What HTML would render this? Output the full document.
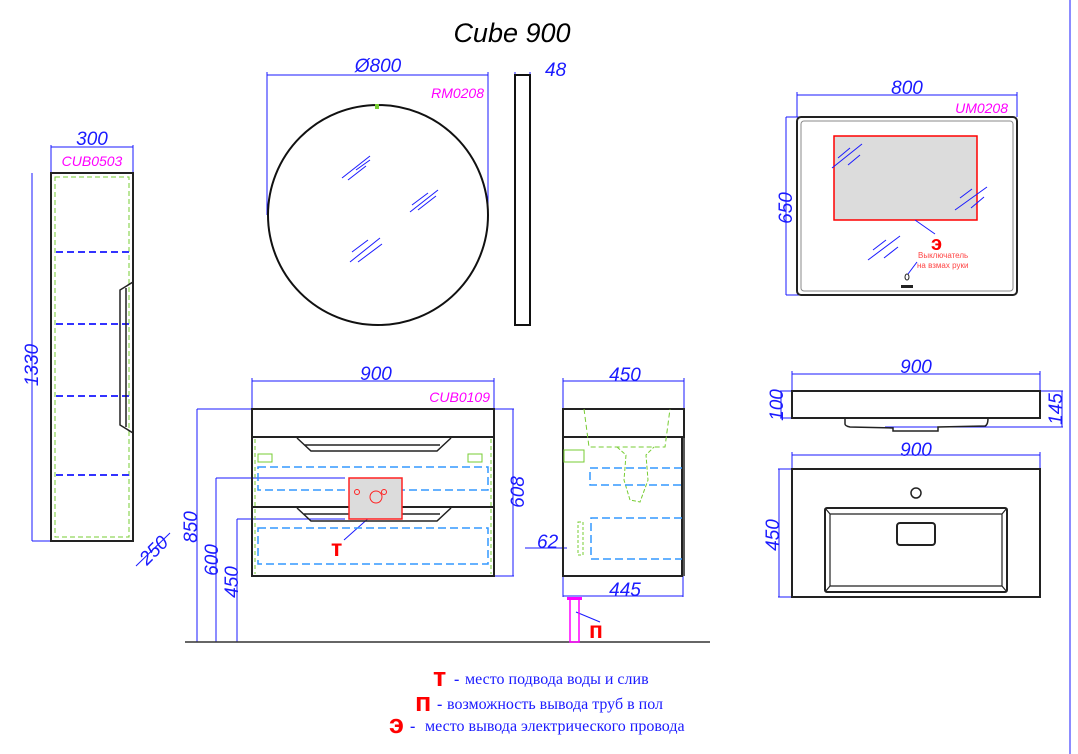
<!DOCTYPE html>
<html><head><meta charset="utf-8"><style>
body{margin:0;background:#fff;}
svg{display:block;font-family:"Liberation Sans",sans-serif;}
.d{font-style:italic;fill:#1a1aff;font-size:19px;}
.m{font-style:italic;fill:#ff00ff;font-size:14px;}
</style></head><body>
<svg width="1078" height="754" viewBox="0 0 1078 754">
<line x1="1070" y1="0" x2="1070" y2="754" stroke="#1a1aff" stroke-width="1"/>
<text x="512" y="42" font-size="27" font-style="italic" text-anchor="middle">Cube 900</text>

<!-- Left tall cabinet -->
<g stroke="#1a1aff" stroke-width="1" fill="none">
<line x1="51" y1="145" x2="51" y2="173"/><line x1="133" y1="145" x2="133" y2="173"/>
<line x1="51" y1="147" x2="133" y2="147"/>
<line x1="32" y1="173" x2="32" y2="541"/><line x1="32" y1="541" x2="51" y2="541"/>
<line x1="136" y1="566" x2="170" y2="533"/>
</g>
<text class="d" x="92" y="145" text-anchor="middle">300</text>
<text class="m" x="92" y="166" text-anchor="middle">CUB0503</text>
<text class="d" transform="translate(38,365) rotate(-90)" text-anchor="middle">1330</text>
<text class="d" transform="translate(147,566) rotate(-45)">250</text>
<rect x="51" y="173" width="82" height="368" fill="none" stroke="#222" stroke-width="2"/>
<rect x="55" y="177" width="74" height="360" fill="none" stroke="#7c3" stroke-dasharray="5,3"/>
<g stroke="#33f" stroke-width="2" stroke-dasharray="7,4">
<line x1="56" y1="252" x2="129" y2="252"/><line x1="56" y1="324" x2="129" y2="324"/>
<line x1="56" y1="396" x2="129" y2="396"/><line x1="56" y1="475" x2="129" y2="475"/>
</g>
<path d="M133 282 L120 290 L120 425 L133 433 M126 288 L126 427" fill="none" stroke="#222" stroke-width="1.5"/>

<!-- Round mirror -->
<g stroke="#1a1aff" fill="none">
<line x1="267" y1="75" x2="488" y2="75"/><line x1="267" y1="72" x2="267" y2="215"/><line x1="488" y1="72" x2="488" y2="215"/>
<line x1="515" y1="75" x2="530" y2="75"/><line x1="515" y1="72" x2="515" y2="80"/><line x1="530" y1="72" x2="530" y2="80"/>
</g>
<text class="d" x="378" y="72" text-anchor="middle">Ø800</text>
<text class="d" x="545" y="76">48</text>
<text class="m" x="484" y="98" text-anchor="end">RM0208</text>
<circle cx="378" cy="215" r="110" fill="none" stroke="#111" stroke-width="2"/>
<rect x="375" y="104" width="4" height="5" fill="#7c3"/>
<g stroke="#1a1aff" stroke-width="1">
<line x1="342" y1="178" x2="370" y2="156"/><line x1="348" y1="180" x2="366" y2="166"/><line x1="356" y1="170" x2="370" y2="160"/>
<line x1="410" y1="212" x2="438" y2="190"/><line x1="418" y1="210" x2="436" y2="196"/><line x1="412" y1="205" x2="428" y2="193"/>
<line x1="350" y1="262" x2="380" y2="238"/><line x1="358" y1="262" x2="382" y2="244"/><line x1="352" y1="252" x2="368" y2="240"/>
</g>
<rect x="515" y="75" width="15" height="250" fill="none" stroke="#111" stroke-width="2"/>

<!-- Rect mirror -->
<g stroke="#1a1aff" fill="none">
<line x1="797" y1="95" x2="1017" y2="95"/><line x1="797" y1="92" x2="797" y2="117"/><line x1="1017" y1="92" x2="1017" y2="117"/>
<line x1="786" y1="117" x2="786" y2="295"/><line x1="786" y1="117" x2="810" y2="117"/><line x1="786" y1="295" x2="810" y2="295"/>
</g>
<text class="d" x="907" y="94" text-anchor="middle">800</text>
<text class="m" x="1008" y="113" text-anchor="end">UM0208</text>
<text class="d" transform="translate(792,208) rotate(-90)" text-anchor="middle">650</text>
<rect x="797" y="117" width="220" height="178" rx="4" fill="none" stroke="#222" stroke-width="2"/>
<rect x="801" y="121" width="212" height="170" rx="3" fill="none" stroke="#888" stroke-width="1"/>
<rect x="834" y="136" width="143" height="84" fill="#dcdcdc" stroke="#f00" stroke-width="1.5"/>
<g stroke="#1a1aff">
<line x1="832" y1="168" x2="862" y2="144"/><line x1="838" y1="158" x2="850" y2="148"/><line x1="848" y1="165" x2="860" y2="155"/>
<line x1="955" y1="210" x2="987" y2="187"/><line x1="960" y1="198" x2="972" y2="189"/><line x1="971" y1="208" x2="984" y2="197"/>
<line x1="868" y1="260" x2="900" y2="236"/><line x1="873" y1="250" x2="886" y2="240"/><line x1="884" y1="258" x2="898" y2="247"/>
<line x1="915" y1="220" x2="935" y2="234"/><line x1="908" y1="274" x2="917" y2="262"/>
</g>
<text x="931" y="250" fill="#f00" font-size="20" font-weight="bold">э</text>
<text x="918" y="258" fill="#f44" font-size="8">Выключатель</text>
<text x="917" y="268" fill="#f44" font-size="8">на взмах руки</text>
<ellipse cx="907" cy="277" rx="2" ry="3" fill="none" stroke="#222"/>
<rect x="901" y="285" width="12" height="3" fill="#222"/>

<!-- Front cabinet -->
<g stroke="#1a1aff" fill="none">
<line x1="252" y1="381" x2="494" y2="381"/><line x1="252" y1="378" x2="252" y2="410"/><line x1="494" y1="378" x2="494" y2="410"/>
<line x1="197" y1="409" x2="298" y2="409"/><line x1="197" y1="409" x2="197" y2="642"/>
<line x1="216" y1="478" x2="345" y2="478"/><line x1="216" y1="478" x2="216" y2="642"/>
<line x1="237" y1="519" x2="345" y2="519"/><line x1="237" y1="519" x2="237" y2="642"/>
<line x1="494" y1="409" x2="514" y2="409"/><line x1="494" y1="576" x2="514" y2="576"/><line x1="513" y1="409" x2="513" y2="576"/>
<line x1="344" y1="540" x2="371" y2="516"/>
</g>
<text class="d" x="376" y="380" text-anchor="middle">900</text>
<text class="m" x="490" y="402" text-anchor="end">CUB0109</text>
<text class="d" transform="translate(197,527) rotate(-90)" text-anchor="middle">850</text>
<text class="d" transform="translate(218,560) rotate(-90)" text-anchor="middle">600</text>
<text class="d" transform="translate(238,582) rotate(-90)" text-anchor="middle">450</text>
<text class="d" transform="translate(524,492) rotate(-90)" text-anchor="middle">608</text>
<rect x="252" y="409" width="242" height="28" fill="none" stroke="#222" stroke-width="2"/>
<rect x="252" y="437" width="242" height="139" fill="none" stroke="#222" stroke-width="2"/>
<line x1="252" y1="507" x2="494" y2="507" stroke="#222" stroke-width="2"/>
<line x1="255" y1="439" x2="255" y2="574" stroke="#7c3" stroke-dasharray="4,3"/>
<line x1="491" y1="439" x2="491" y2="574" stroke="#7c3" stroke-dasharray="4,3"/>
<path d="M297 438 L311 451 L437 451 L451 438 M304 445 L440 445" fill="none" stroke="#222" stroke-width="1.5"/>
<path d="M297 508 L311 521 L437 521 L451 508 M304 514 L440 514" fill="none" stroke="#222" stroke-width="1.5"/>
<rect x="258" y="467" width="230" height="23" fill="none" stroke="#39f" stroke-width="1.5" stroke-dasharray="8,4"/>
<rect x="258" y="528" width="230" height="36" fill="none" stroke="#39f" stroke-width="1.5" stroke-dasharray="8,4"/>
<rect x="258" y="454" width="14" height="8" fill="none" stroke="#7c3"/>
<rect x="468" y="454" width="14" height="8" fill="none" stroke="#7c3"/>
<rect x="349" y="478" width="53" height="41" fill="#dcdcdc" stroke="#f22" stroke-width="1.5"/>
<circle cx="376" cy="497" r="6" fill="none" stroke="#f22"/><circle cx="357" cy="492" r="2.5" fill="none" stroke="#f22"/><circle cx="384" cy="492" r="2.5" fill="none" stroke="#f22"/>
<text x="331" y="556" fill="#f00" font-size="23" font-weight="bold">т</text>
<line x1="185" y1="642" x2="710" y2="642" stroke="#333" stroke-width="1.5"/>

<!-- Side cabinet -->
<g stroke="#1a1aff" fill="none">
<line x1="563" y1="381" x2="684" y2="381"/><line x1="563" y1="378" x2="563" y2="410"/><line x1="684" y1="378" x2="684" y2="410"/>
<line x1="563" y1="576" x2="563" y2="597"/><line x1="683" y1="576" x2="683" y2="597"/><line x1="563" y1="596" x2="683" y2="596"/>
<line x1="525" y1="548" x2="567" y2="548"/>
<line x1="576" y1="612" x2="600" y2="622"/>
</g>
<text class="d" x="625" y="381" text-anchor="middle">450</text>
<text class="d" x="625" y="596" text-anchor="middle">445</text>
<text class="d" x="537" y="548">62</text>
<rect x="563" y="409" width="121" height="28" fill="none" stroke="#222" stroke-width="2"/>
<rect x="563" y="437" width="119" height="139" fill="none" stroke="#222" stroke-width="2"/>
<line x1="684" y1="437" x2="684" y2="576" stroke="#222" stroke-width="1.5"/>
<path d="M584 409 L589 447 L665 447 L670 409" fill="none" stroke="#7c3" stroke-dasharray="5,3"/>
<path d="M617 447 L626 455 L624 480 L630 500 L640 502 L648 480 L646 455 L654 447" fill="none" stroke="#7c3" stroke-dasharray="4,2"/>
<rect x="564" y="450" width="20" height="12" fill="none" stroke="#7c3"/>
<rect x="578" y="522" width="5" height="33" fill="none" stroke="#7c3" stroke-dasharray="3,2"/>
<path d="M682 468 L590 468 L590 485 L682 485" fill="none" stroke="#39f" stroke-width="1.5" stroke-dasharray="8,4"/>
<path d="M682 518 L591 518 L591 559 L682 559" fill="none" stroke="#39f" stroke-width="1.5" stroke-dasharray="8,4"/>
<rect x="570" y="598" width="9" height="44" fill="none" stroke="#f0f" stroke-width="1.5"/>
<rect x="567" y="597" width="15" height="3" fill="#f0f"/>
<text x="589" y="638" fill="#f00" font-size="23" font-weight="bold">п</text>

<!-- Sink side -->
<g stroke="#1a1aff" fill="none">
<line x1="792" y1="374" x2="1040" y2="374"/><line x1="792" y1="371" x2="792" y2="392"/><line x1="1040" y1="371" x2="1040" y2="392"/>
<line x1="780" y1="391" x2="792" y2="391"/><line x1="780" y1="418" x2="792" y2="418"/><line x1="781" y1="391" x2="781" y2="418"/>
<line x1="985" y1="391" x2="1063" y2="391"/><line x1="885" y1="427" x2="1063" y2="427"/><line x1="1062" y1="391" x2="1062" y2="427"/>
</g>
<text class="d" x="916" y="373" text-anchor="middle">900</text>
<text class="d" transform="translate(783,405) rotate(-90)" text-anchor="middle">100</text>
<text class="d" transform="translate(1062,409) rotate(-90)" text-anchor="middle">145</text>
<rect x="792" y="391" width="248" height="27" fill="none" stroke="#222" stroke-width="2"/>
<path d="M845 418 L845 424 Q845 426 850 427 L893 428 L893 431 L938 431 L938 427 L985 426 Q988 425 988 418" fill="none" stroke="#222" stroke-width="1.5"/>

<!-- Sink top -->
<g stroke="#1a1aff" fill="none">
<line x1="792" y1="455" x2="1040" y2="455"/><line x1="792" y1="452" x2="792" y2="470"/><line x1="1040" y1="452" x2="1040" y2="470"/>
<line x1="778" y1="469" x2="792" y2="469"/><line x1="778" y1="597" x2="792" y2="597"/><line x1="779" y1="469" x2="779" y2="597"/>
</g>
<text class="d" x="916" y="456" text-anchor="middle">900</text>
<text class="d" transform="translate(779,535) rotate(-90)" text-anchor="middle">450</text>
<rect x="792" y="469" width="248" height="128" fill="none" stroke="#222" stroke-width="2"/>
<circle cx="916" cy="493" r="5" fill="none" stroke="#222" stroke-width="1.5"/>
<rect x="825" y="508" width="182" height="84" rx="2" fill="none" stroke="#222" stroke-width="2"/>
<path d="M830 514 L1002 514 L1002 586 L830 586 Z M825 508 L830 514 M1007 508 L1002 514 M825 592 L830 586 M1007 592 L1002 586" fill="none" stroke="#222" stroke-width="1.2"/>
<rect x="897" y="523" width="38" height="22" rx="3" fill="none" stroke="#222" stroke-width="2"/>

<!-- Legend -->
<g font-family="Liberation Serif,serif" font-size="16">
<text x="433" y="686" fill="#f00" font-size="27" font-weight="bold" font-family="Liberation Sans,sans-serif">т</text>
<text x="454" y="684" fill="#1a1aff" font-weight="bold">-</text>
<text x="465" y="684" fill="#1a1aff">место подвода воды и слив</text>
<text x="415" y="711" fill="#f00" font-size="27" font-weight="bold" font-family="Liberation Sans,sans-serif">п</text>
<text x="437" y="709" fill="#1a1aff" font-weight="bold">-</text>
<text x="447" y="709" fill="#1a1aff">возможность вывода труб в пол</text>
<text x="389" y="733" fill="#f00" font-size="27" font-weight="bold" font-family="Liberation Sans,sans-serif">э</text>
<text x="410" y="731" fill="#1a1aff" font-weight="bold">-</text>
<text x="425" y="731" fill="#1a1aff">место вывода электрического провода</text>
</g>
</svg>
</body></html>
